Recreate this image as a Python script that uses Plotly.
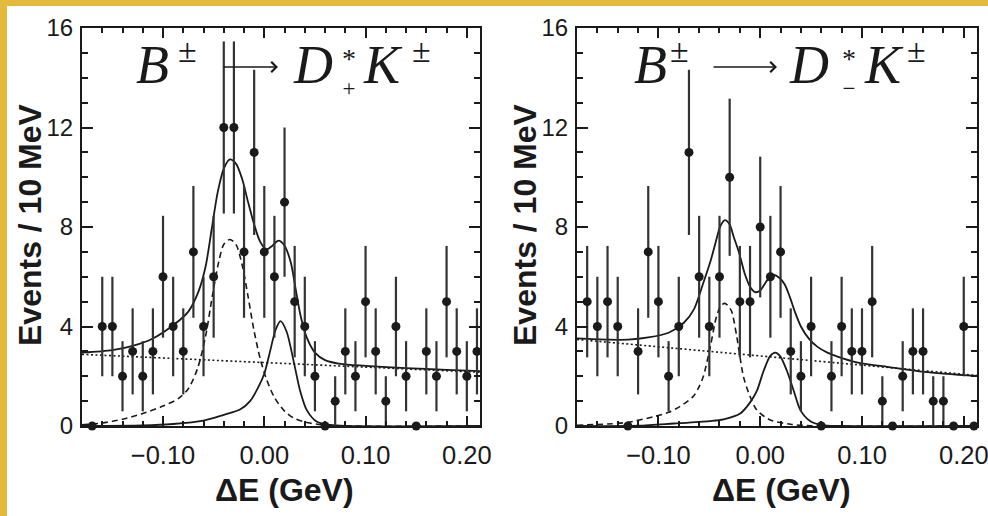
import plotly.graph_objects as go

# ---------------- data ----------------
BIN_CENTERS = [-0.17, -0.16, -0.15, -0.14, -0.13, -0.12, -0.11, -0.10, -0.09, -0.08,
               -0.07, -0.06, -0.05, -0.04, -0.03, -0.02, -0.01, 0.00, 0.01, 0.02,
               0.03, 0.04, 0.05, 0.06, 0.07, 0.08, 0.09, 0.10, 0.11, 0.12,
               0.13, 0.14, 0.15, 0.16, 0.17, 0.18, 0.19, 0.20, 0.21]

# D*+ K (left panel)
PLUS_COUNTS = [0, 4, 4, 2, 3, 2, 3, 6, 4, 3, 7, 4, 6, 12, 12, 7, 11, 7, 6, 9,
               5, 4, 2, 0, 1, 3, 2, 5, 3, 1, 4, 2, 0, 3, 2, 5, 3, 2, 3]
PLUS_ERRORS = [0, 2.0, 2.0, 1.41, 1.73, 1.41, 1.73, 2.45, 2.0, 1.73, 2.65, 2.0, 2.45, 3.46, 3.46,
               2.65, 3.32, 2.65, 2.45, 3.0, 2.24, 2.0, 1.41, 0, 1.0, 1.73, 1.41, 2.24, 1.73, 1.0,
               2.0, 1.41, 0, 1.73, 1.41, 2.24, 1.73, 1.41, 1.73]

# D*- K (right panel)
MINUS_COUNTS = [5, 4, 5, 4, 0, 3, 7, 5, 2, 4, 11, 6, 4, 6, 10, 5, 5, 8, 6, 7,
                3, 2, 4, 0, 2, 4, 3, 3, 5, 1, 0, 2, 3, 3, 1, 1, 0, 4, 0]
MINUS_ERRORS = [2.24, 2.0, 2.24, 2.0, 0, 1.73, 2.65, 2.24, 1.41, 2.0, 3.32, 2.45, 2.0, 2.45, 3.16,
                2.24, 2.24, 2.83, 2.45, 2.65, 1.73, 1.41, 2.0, 0, 1.41, 2.0, 1.73, 1.73, 2.24, 1.0,
                0, 1.41, 1.73, 1.73, 1.0, 1.0, 0, 2.0, 0]

# fit curves, left panel
PLUS_TOTAL_X = [-0.18, -0.15, -0.13, -0.11, -0.09, -0.075, -0.065, -0.058, -0.052, -0.046,
                -0.040, -0.034, -0.028, -0.022, -0.016, -0.010, -0.004, 0.002, 0.008, 0.014,
                0.020, 0.026, 0.031, 0.036, 0.042, 0.050, 0.060, 0.075, 0.10, 0.14, 0.18, 0.213]
PLUS_TOTAL_Y = [2.95, 3.05, 3.22, 3.52, 4.05, 4.6, 5.4, 6.4, 7.9, 9.4,
                10.35, 10.72, 10.55, 9.95, 9.0, 8.1, 7.4, 7.1, 7.25, 7.45,
                7.25, 6.6, 5.5, 4.4, 3.55, 2.95, 2.65, 2.5, 2.42, 2.33, 2.26, 2.21]
PLUS_PEAKING_X = [-0.18, -0.16, -0.14, -0.12, -0.10, -0.085, -0.075, -0.066, -0.058, -0.051,
                  -0.045, -0.040, -0.034, -0.028, -0.022, -0.016, -0.010, -0.004, 0.002, 0.010,
                  0.020, 0.030, 0.045, 0.060, 0.08, 0.213]
PLUS_PEAKING_Y = [0.05, 0.12, 0.27, 0.5, 0.8, 1.1, 1.5, 2.3, 3.6, 5.3,
                  6.6, 7.3, 7.5, 7.3, 6.5, 5.2, 3.8, 2.7, 1.9, 1.15,
                  0.6, 0.3, 0.12, 0.04, 0.0, 0.0]
PLUS_SIGNAL_X = [-0.18, -0.12, -0.09, -0.06, -0.04, -0.024, -0.014, -0.006, 0.0, 0.006,
                 0.011, 0.016, 0.022, 0.029, 0.0355, 0.042, 0.052, 0.065, 0.08, 0.213]
PLUS_SIGNAL_Y = [0.0, 0.02, 0.08, 0.22, 0.45, 0.66, 1.0, 1.55, 2.1, 3.05,
                 3.85, 4.22, 3.8, 2.6, 1.4, 0.64, 0.17, 0.04, 0.0, 0.0]
PLUS_BKG_X = [-0.18, 0.213]
PLUS_BKG_Y = [2.88, 2.16]

# fit curves, right panel
MINUS_TOTAL_X = [-0.18, -0.15, -0.13, -0.11, -0.09, -0.075, -0.065, -0.056, -0.049, -0.044,
                 -0.039, -0.0345, -0.030, -0.026, -0.021, -0.015, -0.010, -0.005, 0.0, 0.005,
                 0.0095, 0.014, 0.019, 0.024, 0.029, 0.034, 0.040, 0.048, 0.056, 0.066,
                 0.076, 0.096, 0.128, 0.161, 0.213]
MINUS_TOTAL_Y = [3.52, 3.47, 3.47, 3.56, 3.75, 4.15, 4.7, 5.74, 6.6, 7.35,
                 8.05, 8.28, 8.1, 7.6, 7.0, 6.1, 5.6, 5.38, 5.45, 5.75,
                 6.0, 6.07, 5.95, 5.7, 5.2, 4.6, 4.0, 3.5, 3.19, 2.95,
                 2.79, 2.55, 2.36, 2.18, 2.01]
MINUS_PEAKING_X = [-0.18, -0.15, -0.13, -0.105, -0.09, -0.079, -0.066, -0.061, -0.056, -0.049,
                   -0.043, -0.0385, -0.0345, -0.031, -0.028, -0.023, -0.0164, -0.0099, -0.0033, 0.0099,
                   0.030, 0.05, 0.213]
MINUS_PEAKING_Y = [0.03, 0.08, 0.15, 0.37, 0.55, 0.78, 1.18, 1.5, 1.98, 3.19,
                   4.39, 4.85, 4.93, 4.8, 4.6, 3.59, 1.98, 1.18, 0.64, 0.24,
                   0.07, 0.01, 0.0]
MINUS_SIGNAL_X = [-0.18, -0.12, -0.085, -0.05, -0.036, -0.0197, -0.0099, -0.0033, 0.0033, 0.0099,
                  0.0148, 0.0197, 0.0263, 0.033, 0.0395, 0.049, 0.06, 0.08, 0.213]
MINUS_SIGNAL_Y = [0.0, 0.01, 0.1, 0.2, 0.27, 0.5, 0.95, 1.41, 2.21, 2.82,
                  2.95, 2.8, 2.21, 1.41, 0.64, 0.2, 0.04, 0.0, 0.0]
MINUS_BKG_X = [-0.18, 0.213]
MINUS_BKG_Y = [3.48, 2.03]

X_TICKS = [-0.10, 0.00, 0.10, 0.20]
X_TICK_TEXT = ["\u22120.10", "0.00", "0.10", "0.20"]
Y_TICKS = [0, 4, 8, 12, 16]

# ---------------- styling ----------------
W, H = 988, 516
INK = "#1a1a1a"
GOLD = "#E3BA3C"
SERIF = "Liberation Serif, Times New Roman, serif"
SANS = "Liberation Sans, Arial, sans-serif"


def fx(px):
    return px / W


def fy(py):
    return 1 - py / H


fig = go.Figure()


def add_panel(xa, ya, counts, errors, total, peaking, signal, bkg):
    line = dict(color=INK, width=1.8)
    fig.add_trace(go.Scatter(x=bkg[0], y=bkg[1], mode="lines", xaxis=xa, yaxis=ya,
                             line=dict(color=INK, width=1.6, dash="2px,2.5px")))
    fig.add_trace(go.Scatter(x=peaking[0], y=peaking[1], mode="lines", xaxis=xa, yaxis=ya,
                             line=dict(color=INK, width=1.6, dash="6px,4px",
                                       shape="spline", smoothing=0.8)))
    fig.add_trace(go.Scatter(x=signal[0], y=signal[1], mode="lines", xaxis=xa, yaxis=ya,
                             line=dict(line, shape="spline", smoothing=0.8)))
    fig.add_trace(go.Scatter(x=total[0], y=total[1], mode="lines", xaxis=xa, yaxis=ya,
                             line=dict(line, shape="spline", smoothing=0.8)))
    fig.add_trace(go.Scatter(
        x=BIN_CENTERS, y=counts, mode="markers", xaxis=xa, yaxis=ya, cliponaxis=False,
        marker=dict(size=9, color=INK),
        error_y=dict(type="data", array=errors, visible=True, thickness=2.2,
                     width=0, color="#333333")))


add_panel("x", "y", PLUS_COUNTS, PLUS_ERRORS,
          (PLUS_TOTAL_X, PLUS_TOTAL_Y), (PLUS_PEAKING_X, PLUS_PEAKING_Y),
          (PLUS_SIGNAL_X, PLUS_SIGNAL_Y), (PLUS_BKG_X, PLUS_BKG_Y))
add_panel("x2", "y2", MINUS_COUNTS, MINUS_ERRORS,
          (MINUS_TOTAL_X, MINUS_TOTAL_Y), (MINUS_PEAKING_X, MINUS_PEAKING_Y),
          (MINUS_SIGNAL_X, MINUS_SIGNAL_Y), (MINUS_BKG_X, MINUS_BKG_Y))

xaxis_style = dict(
    range=[-0.18, 0.213], tickmode="array", tickvals=X_TICKS, ticktext=X_TICK_TEXT,
    ticks="inside", ticklen=10, tickwidth=2, tickcolor=INK,
    minor=dict(dtick=0.02, tick0=0, ticks="inside", ticklen=5, tickwidth=1.5, tickcolor=INK),
    showline=True, linewidth=2, linecolor=INK, mirror="allticks",
    showgrid=False, zeroline=False, ticklabelstandoff=5, ticklabeloverflow="allow",
    tickfont=dict(family=SANS, size=25.5, color=INK),
)
yaxis_style = dict(
    range=[0, 16], tickmode="array", tickvals=Y_TICKS,
    ticks="inside", ticklen=11, tickwidth=2, tickcolor=INK,
    minor=dict(dtick=1, tick0=0, ticks="inside", ticklen=6, tickwidth=1.5, tickcolor=INK),
    showline=True, linewidth=2, linecolor=INK, mirror="allticks",
    showgrid=False, zeroline=False, ticklabelstandoff=2, ticklabeloverflow="allow",
    tickfont=dict(family=SANS, size=24, color=INK),
)

Y_DOMAIN = [fy(426), fy(28)]
fig.update_layout(
    width=W, height=H, margin=dict(l=0, r=0, t=0, b=0, autoexpand=False),
    paper_bgcolor="white", plot_bgcolor="white", showlegend=False,
    xaxis=dict(xaxis_style, domain=[fx(82), fx(480)], anchor="y"),
    yaxis=dict(yaxis_style, domain=Y_DOMAIN, anchor="x"),
    xaxis2=dict(xaxis_style, domain=[fx(577), fx(977)], anchor="y2"),
    yaxis2=dict(yaxis_style, domain=Y_DOMAIN, anchor="x2"),
)

# gold frame strips along the top and left edges
fig.add_shape(type="rect", xref="paper", yref="paper", x0=0, x1=fx(7), y0=0, y1=1,
              fillcolor=GOLD, line=dict(width=0), layer="below")
fig.add_shape(type="rect", xref="paper", yref="paper", x0=0, x1=1, y0=fy(6), y1=1,
              fillcolor=GOLD, line=dict(width=0), layer="below")


def label(text, px, py, size, family, xanchor="center", angle=0, bold=False):
    fig.add_annotation(text=text, x=fx(px), y=fy(py), xref="paper", yref="paper",
                       showarrow=False, xanchor=xanchor, yanchor="middle", textangle=angle,
                       borderpad=0,
                       font=dict(family=family, size=size, color=INK,
                                 weight="bold" if bold else "normal"))


def arrow(x_tail, x_head, py):
    fig.add_annotation(text="", x=fx(x_head), y=fy(py), xref="paper", yref="paper",
                       showarrow=True, ax=x_tail - x_head, ay=0, axref="pixel", ayref="pixel",
                       arrowhead=4, arrowsize=1.25, arrowwidth=1.6, arrowcolor=INK,
                       standoff=0, startstandoff=0)


# axis titles
for cx in (30, 525):
    label("Events / 10 MeV", cx, 225, 32, SANS, angle=-90, bold=True)
for cx in (284, 781):
    label("\u0394E (GeV)", cx, 490, 32, SANS, bold=True)


# decay labels  B± → D*± K±  (the * and the charge sign are stacked on D)
def decay(b_x, pm1_x, arrow_x0, arrow_x1, d_x, star_cx, k_x, pm2_x, sub, sub_size):
    label("<i>B</i>", b_x, 65, 54, SERIF, xanchor="left")
    label("\u00b1", pm1_x, 51, 34, SERIF, xanchor="left")
    arrow(arrow_x0, arrow_x1, 67)
    label("<i>D</i>", d_x, 65, 54, SERIF, xanchor="left")
    label("<span style='font-size:28px'>*</span><br>"
          f"<span style='font-size:{sub_size}px'>{sub}</span>", star_cx, 72, 21.5, SERIF)
    label("<i>K</i>", k_x, 65, 54, SERIF, xanchor="left")
    label("\u00b1", pm2_x, 51, 34, SERIF, xanchor="left")


decay(135, 177, 222, 278, 292, 349, 362, 411, "+", 23)
decay(633, 669, 712, 777, 788, 849, 863, 906, "\u2212", 23)

fig.write_html(
    "out.html",
    post_script="document.documentElement.style.margin='0';"
                "document.body.style.margin='0';"
                "document.body.style.overflow='hidden';",
)
